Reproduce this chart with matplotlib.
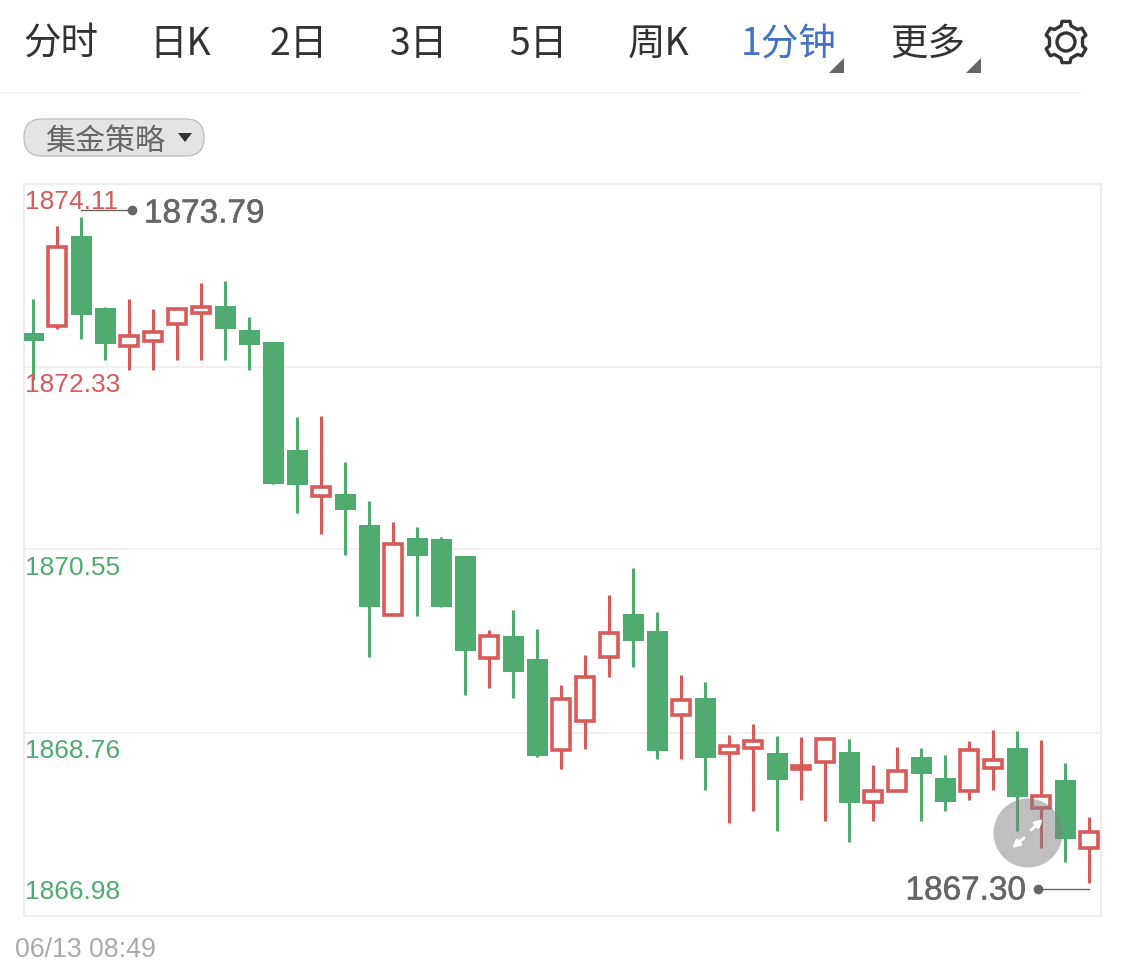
import math
import matplotlib
matplotlib.use('Agg')
import matplotlib.pyplot as plt
import matplotlib.patheffects as pe
from matplotlib.patches import Circle, FancyArrowPatch, FancyBboxPatch, Polygon

plt.rcParams['font.family'] = ['Noto Sans CJK SC', 'DejaVu Sans']

tab_labels = ['分时', '日K', '2日', '3日', '5日', '周K', '1分钟', '更多']
tab_x = [23, 149, 270, 390, 509, 628, 741, 890]
strategy_label = '集金策略'
date_label = '06/13 08:49'

price_ticks = [1874.11, 1872.33, 1870.55, 1868.76, 1866.98]
price_labels = ['1874.11', '1872.33', '1870.55', '1868.76', '1866.98']
high_label = '1873.79'
low_label = '1867.30'

opens = [1872.66, 1872.73, 1873.60, 1872.90, 1872.53, 1872.58, 1872.75, 1872.85, 1872.92, 1872.69,
         1872.57, 1871.52, 1871.07, 1871.09, 1870.79, 1869.91, 1870.66, 1870.65, 1870.49, 1869.49,
         1869.71, 1869.48, 1868.60, 1868.88, 1869.50, 1869.92, 1869.76, 1868.94, 1869.10, 1868.57,
         1868.62, 1868.57, 1868.41, 1868.48, 1868.58, 1868.09, 1868.20, 1868.53, 1868.32, 1868.20,
         1868.42, 1868.62, 1868.03, 1868.30, 1867.64]
closes = [1872.58, 1873.50, 1872.83, 1872.55, 1872.63, 1872.67, 1872.89, 1872.91, 1872.70, 1872.54,
          1871.19, 1871.18, 1871.16, 1870.93, 1869.99, 1870.60, 1870.49, 1869.99, 1869.56, 1869.71,
          1869.36, 1868.54, 1869.09, 1869.31, 1869.74, 1869.66, 1868.59, 1869.08, 1868.52, 1868.64,
          1868.68, 1868.30, 1868.44, 1868.70, 1868.08, 1868.20, 1868.39, 1868.36, 1868.09, 1868.60,
          1868.50, 1868.14, 1868.15, 1867.73, 1867.80]
highs = [1872.99, 1873.70, 1873.79, 1872.91, 1872.99, 1872.89, 1872.89, 1873.15, 1873.17, 1872.81,
         1872.57, 1871.84, 1871.85, 1871.40, 1871.02, 1870.82, 1870.77, 1870.67, 1870.49, 1869.77,
         1869.96, 1869.78, 1869.23, 1869.52, 1870.11, 1870.37, 1869.94, 1869.33, 1869.26, 1868.74,
         1868.85, 1868.73, 1868.72, 1868.70, 1868.70, 1868.45, 1868.63, 1868.62, 1868.55, 1868.68,
         1868.79, 1868.78, 1868.69, 1868.47, 1867.94]
lows = [1872.20, 1872.70, 1872.60, 1872.40, 1872.30, 1872.30, 1872.40, 1872.40, 1872.40, 1872.30,
        1871.19, 1870.91, 1870.70, 1870.50, 1869.50, 1869.91, 1869.90, 1869.99, 1869.13, 1869.20,
        1869.10, 1868.53, 1868.41, 1868.61, 1869.31, 1869.41, 1868.51, 1868.51, 1868.21, 1867.89,
        1868.00, 1867.81, 1868.11, 1867.91, 1867.70, 1867.91, 1868.20, 1867.91, 1868.00, 1868.11,
        1868.21, 1867.81, 1867.64, 1867.51, 1867.30]

RED = '#d85a5a'
GREEN = '#4fab6f'
GREY = '#666666'
TEXT = '#333333'
LINE = '#f1f1f1'
NUM_FONT = ['Liberation Sans', 'DejaVu Sans']

fig = plt.figure(figsize=(11.25, 9.72), dpi=100, facecolor='white')

# chart area, 24..1101 x 184..916 in pixels
ax = fig.add_axes([24 / 1125, 1 - 916 / 972, 1077 / 1125, 732 / 972])
ax.set_xlim(-0.375, 44.5)
ax.set_ylim(price_ticks[-1], price_ticks[0])
ax.set_xticks([])
ax.set_yticks(price_ticks[1:-1])
ax.tick_params(left=False, labelleft=False)
ax.grid(axis='y', color=LINE, linewidth=1.4, zorder=0)
for spine in ax.spines.values():
    spine.set_color('#eeeeee')
    spine.set_linewidth(1.4)

for i in range(len(opens)):
    up = closes[i] > opens[i]
    color = RED if up else GREEN
    ax.vlines(i, lows[i], highs[i], color=color, linewidth=2.2, zorder=2)
    bottom = min(opens[i], closes[i])
    height = abs(closes[i] - opens[i])
    if up:
        ax.bar(i, height, bottom=bottom, width=0.76, facecolor='white',
               edgecolor=color, linewidth=2.6, zorder=3)
    else:
        ax.bar(i, height, bottom=bottom, width=0.875, color=color, linewidth=0, zorder=3)

# everything else goes on a pixel overlay
ui = fig.add_axes([0, 0, 1, 1], facecolor='none')
ui.set_xlim(0, 1125)
ui.set_ylim(972, 0)
ui.axis('off')

for label, x in zip(tab_labels, tab_x):
    color = '#4472c4' if label == '1分钟' else TEXT
    ui.text(x, 44, label, fontsize=27, color=color, ha='left', va='center')

for x in [829, 966]:
    ui.add_patch(Polygon([(x + 15, 58), (x + 15, 73), (x, 73)], closed=True, facecolor=GREY, edgecolor='none'))

# gear icon
gear = []
for k in range(6):
    a = math.radians(60 * k - 90)
    for da, r in [(-30, 16.5), (-17, 17), (-11, 21), (11, 21), (17, 17)]:
        t = a + math.radians(da)
        gear.append((1066 + r * math.cos(t), 42 + r * math.sin(t)))
ui.add_patch(Polygon(gear, closed=True, facecolor='none', edgecolor=TEXT, linewidth=2.4, joinstyle='round'))
ui.add_patch(Circle((1066, 42), 9, facecolor='none', edgecolor=TEXT, linewidth=2.4))

ui.plot([0, 1080], [93, 93], color=LINE, linewidth=1.4)

ui.add_patch(FancyBboxPatch((24 + 18, 119 + 18), 180 - 36, 1, boxstyle='round,pad=18,rounding_size=18',
                            facecolor='#e4e4e4', edgecolor='#bdbdbd', linewidth=0.9))
ui.text(45, 141, strategy_label, fontsize=21.6, color=GREY, ha='left', va='center')
ui.add_patch(Polygon([(178, 133), (192, 133), (185, 142)], closed=True, facecolor=TEXT, edgecolor='none'))

tick_y = [202, 385, 568, 751, 892]
tick_colors = [RED, RED, GREEN, GREEN, GREEN]
for label, y, color in zip(price_labels, tick_y, tick_colors):
    ui.text(25, y, label, fontsize=19, color=color, ha='left', va='center', family=NUM_FONT)

bold = [pe.withStroke(linewidth=0.4, foreground=GREY)]
ui.plot([81, 132], [210, 210], color=GREY, linewidth=1)
ui.plot([132], [210], 'o', color=GREY, markersize=6)
ui.text(144, 214, high_label, fontsize=24, color=GREY, ha='left', va='center', family=NUM_FONT, path_effects=bold)

ui.plot([1038, 1089], [889, 889], color=GREY, linewidth=1)
ui.plot([1038], [889], 'o', color=GREY, markersize=6)
ui.text(1026, 891, low_label, fontsize=24, color=GREY, ha='right', va='center', family=NUM_FONT, path_effects=bold)

ui.add_patch(Circle((1028, 833), 34.5, facecolor='#808080', alpha=0.5, edgecolor='none', zorder=5))
for start, end in [((1024, 838), (1012, 848)), ((1031, 830), (1043, 819))]:
    ui.add_patch(FancyArrowPatch(start, end, arrowstyle='-|>', mutation_scale=11, color='white',
                                 linewidth=2, shrinkA=0, shrinkB=0, zorder=6))

ui.text(15, 950, date_label, fontsize=19.3, color='#aaaaaa', ha='left', va='center', family=NUM_FONT)

fig.savefig('out.png', dpi=100)
